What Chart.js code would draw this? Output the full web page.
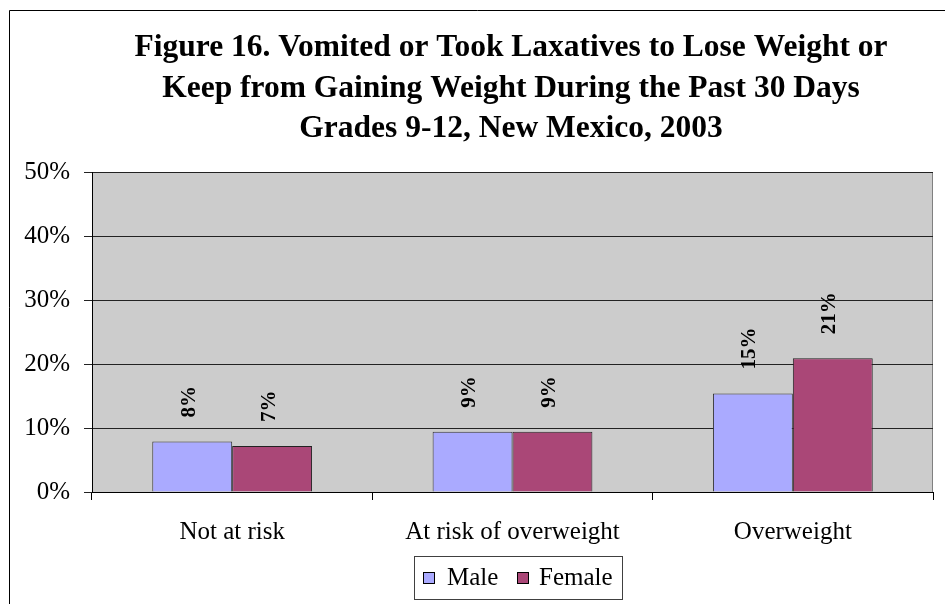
<!DOCTYPE html>
<html>
<head>
<meta charset="utf-8">
<script src="https://cdn.jsdelivr.net/npm/chart.js@4/dist/chart.umd.min.js"></script>
<style>
  html, body { margin: 0; padding: 0; background: #ffffff; }
  #wrap { width: 945px; height: 604px; position: relative; }
</style>
</head>
<body>
<div id="wrap"><canvas id="c" width="945" height="604"></canvas></div>
<script>
// Percent of students who vomited or took laxatives, by weight status and sex
const categories = ['Not at risk', 'At risk of overweight', 'Overweight'];
const maleValues = [7.9, 9.4, 15.4];
const femaleValues = [7.2, 9.4, 20.9];
const seriesNames = ['Male', 'Female'];
const yTicks = [0, 10, 20, 30, 40, 50];
const titleLines = [
  'Figure 16. Vomited or Took Laxatives to Lose Weight or',
  'Keep from Gaining Weight During the Past 30 Days',
  'Grades 9-12, New Mexico, 2003'
];

const SERIF = '"Liberation Serif", "Times New Roman", Times, serif';
const MALE_COLOR = '#AAAAFF';
const FEMALE_COLOR = '#AA4777';

// Outer frame, plot background and title
const framePlugin = {
  id: 'frame',
  beforeDraw(chart) {
    const ctx = chart.ctx;
    const a = chart.chartArea;
    ctx.save();
    ctx.fillStyle = '#ffffff';
    ctx.fillRect(0, 0, chart.width, chart.height);
    // chart frame
    ctx.strokeStyle = '#000000';
    ctx.lineWidth = 1;
    ctx.beginPath();
    ctx.moveTo(9.5, chart.height + 2);
    ctx.lineTo(9.5, 10.5);
    ctx.lineTo(chart.width + 2, 10.5);
    ctx.stroke();
    // plot area
    ctx.fillStyle = '#CCCCCC';
    ctx.fillRect(a.left, a.top, a.right - a.left, a.bottom - a.top);
    ctx.strokeStyle = '#808080';
    ctx.strokeRect(a.left + 0.5, a.top + 0.5, a.right - a.left - 1, a.bottom - a.top);
    // title
    ctx.fillStyle = '#000000';
    ctx.font = 'bold 31.5px ' + SERIF;
    ctx.textAlign = 'center';
    ctx.textBaseline = 'middle';
    titleLines.forEach((line, i) => ctx.fillText(line, 511, 48 + i * 40.5));
    ctx.restore();
  }
};

// Rotated value labels above each bar
const valueLabelPlugin = {
  id: 'valueLabels',
  afterDatasetsDraw(chart) {
    const ctx = chart.ctx;
    ctx.save();
    ctx.fillStyle = '#000000';
    ctx.font = 'bold 21px ' + SERIF;
    ctx.textAlign = 'left';
    ctx.textBaseline = 'middle';
    chart.data.datasets.forEach((ds, di) => {
      const meta = chart.getDatasetMeta(di);
      meta.data.forEach((bar, i) => {
        const label = Math.round(ds.data[i]) + '%';
        ctx.save();
        ctx.translate(bar.x - 3, bar.y - 24);
        ctx.rotate(-Math.PI / 2);
        ctx.fillText(label, 0, 0);
        ctx.restore();
      });
    });
    ctx.restore();
  }
};

// Boxed legend below the axis
const legendPlugin = {
  id: 'boxLegend',
  afterDraw(chart) {
    const ctx = chart.ctx;
    ctx.save();
    ctx.strokeStyle = '#404040';
    ctx.lineWidth = 1;
    ctx.strokeRect(414.5, 556.5, 208, 43);
    ctx.font = '25px ' + SERIF;
    ctx.textBaseline = 'middle';
    ctx.textAlign = 'left';
    const xs = [[423, 447], [517, 539]];
    chart.data.datasets.forEach((ds, i) => {
      ctx.fillStyle = ds.backgroundColor;
      ctx.fillRect(xs[i][0] + 0.5, 572.5, 11, 11);
      ctx.strokeStyle = '#000000';
      ctx.strokeRect(xs[i][0] + 0.5, 572.5, 11, 11);
      ctx.fillStyle = '#000000';
      ctx.fillText(ds.label, xs[i][1], 578);
    });
    ctx.restore();
  }
};

new Chart(document.getElementById('c'), {
  type: 'bar',
  data: {
    labels: categories,
    datasets: [
      { label: seriesNames[0], data: maleValues, backgroundColor: MALE_COLOR,
        borderColor: '#333333', borderWidth: 1 },
      { label: seriesNames[1], data: femaleValues, backgroundColor: FEMALE_COLOR,
        borderColor: '#222222', borderWidth: 1 }
    ]
  },
  options: {
    responsive: false,
    animation: false,
    devicePixelRatio: 1,
    layout: { padding: { top: 172, right: 12, left: 0, bottom: 0 } },
    datasets: { bar: { categoryPercentage: 0.57, barPercentage: 1.0 } },
    plugins: {
      legend: { display: false },
      title: { display: false },
      tooltip: { enabled: false }
    },
    scales: {
      x: {
        grid: { offset: true, drawOnChartArea: false, drawTicks: true, tickLength: 8, color: '#000000' },
        border: { display: true, color: '#000000', width: 1 },
        ticks: { color: '#000000', font: { family: SERIF, size: 25 }, padding: 17, maxRotation: 0 },
        afterFit(scale) { scale.height = 112; }
      },
      y: {
        min: 0,
        max: 50,
        afterBuildTicks(scale) { scale.ticks = yTicks.map(v => ({ value: v })); },
        grid: { color: '#222222', lineWidth: 1, tickLength: 8, drawTicks: true },
        border: { display: true, color: '#000000', width: 1 },
        ticks: {
          color: '#000000',
          font: { family: SERIF, size: 25 },
          padding: 14,
          callback: v => v + '%'
        },
        afterFit(scale) { scale.width = 92; }
      }
    }
  },
  plugins: [framePlugin, valueLabelPlugin, legendPlugin]
});
</script>
</body>
</html>
